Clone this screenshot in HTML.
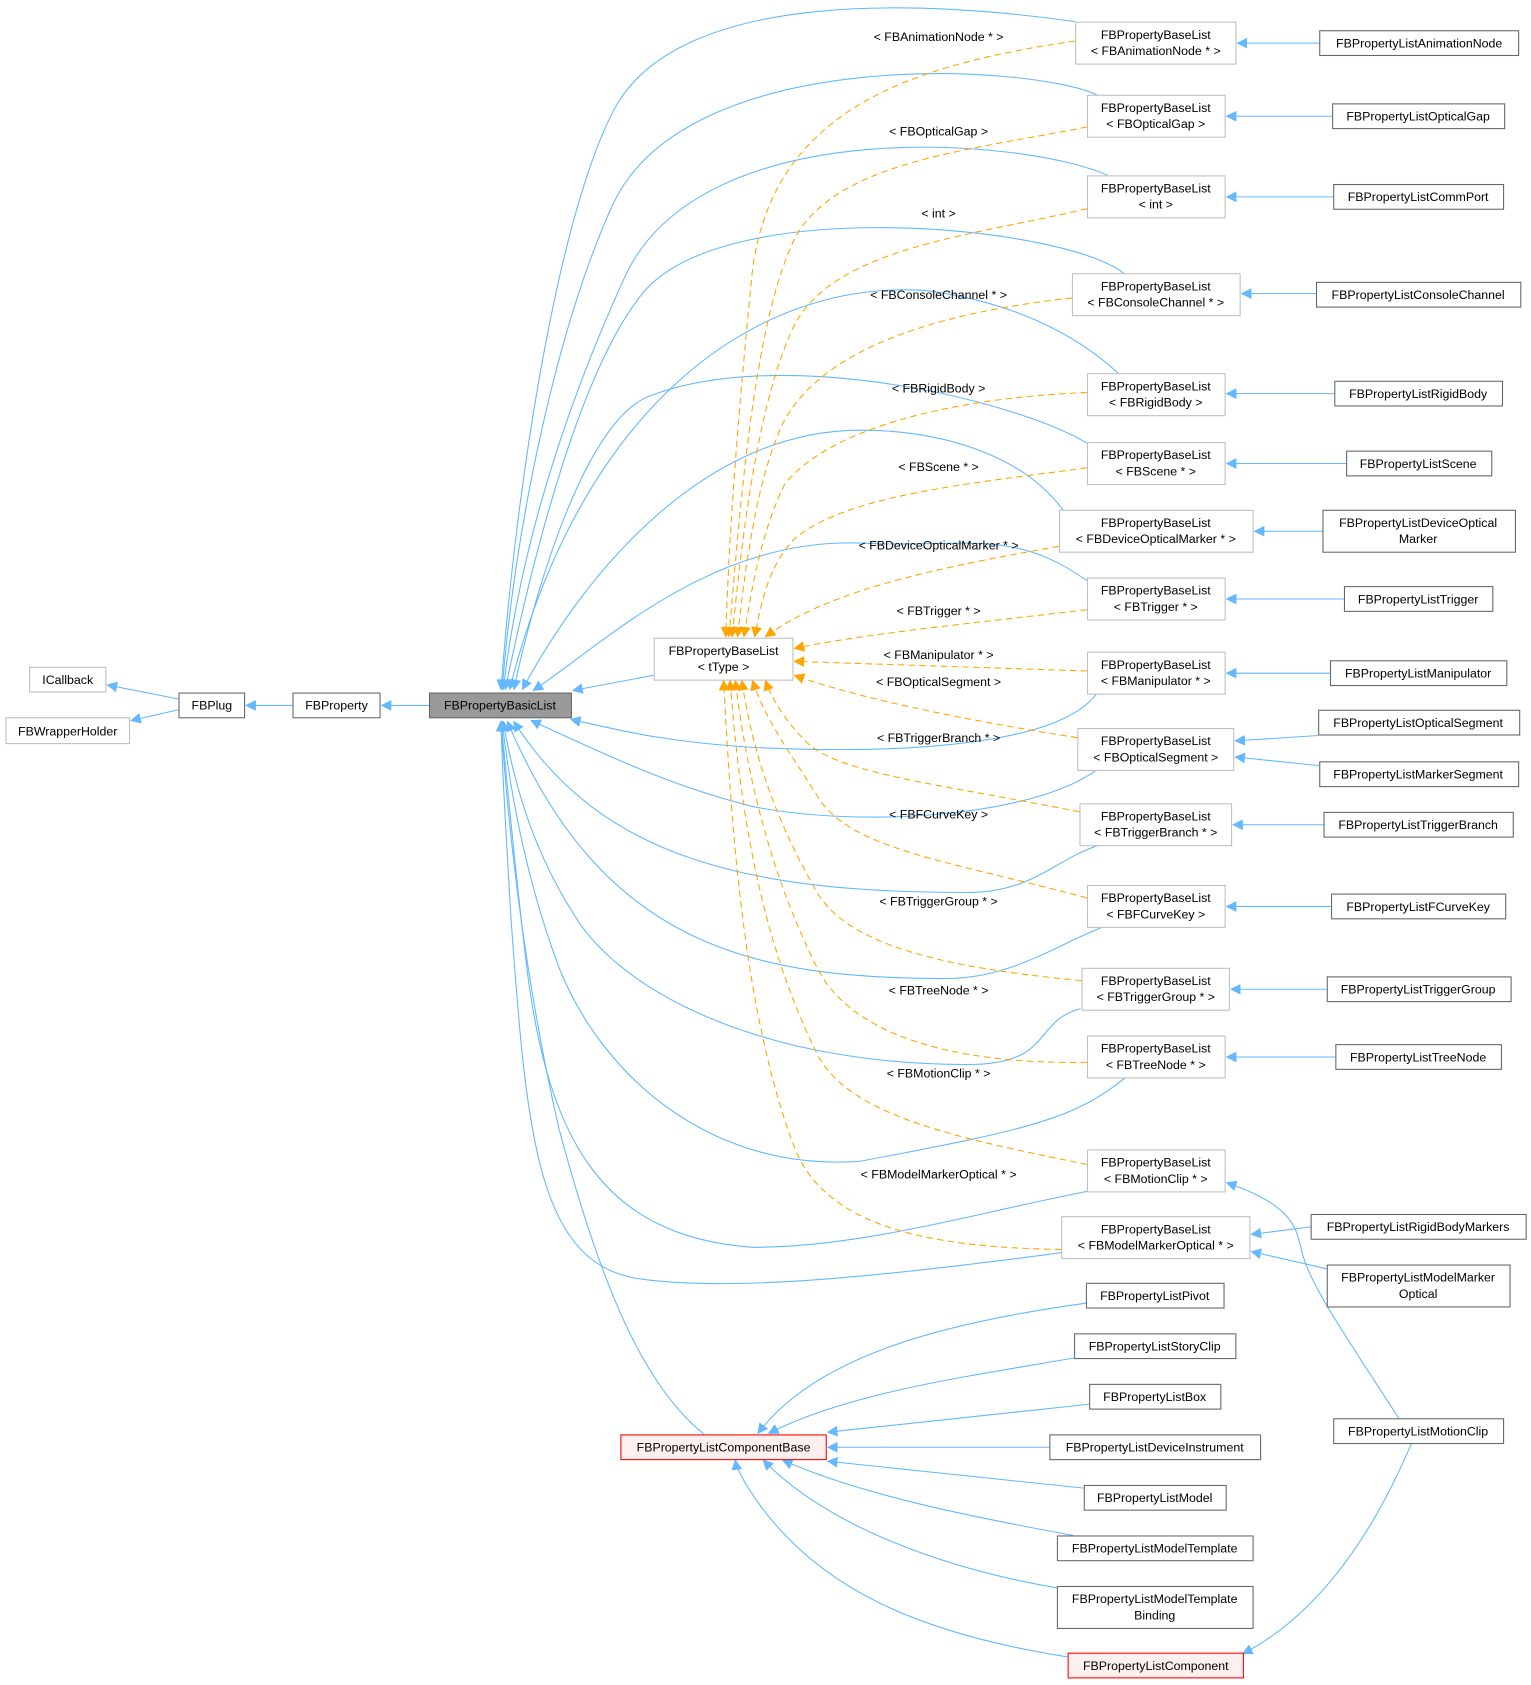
<!DOCTYPE html>
<html><head><style>
html,body{margin:0;padding:0;background:#fff;}
svg{display:block;}
text{font-family:"Liberation Sans",sans-serif;font-size:11.5px;fill:#000;}
</style></head><body>
<svg width="1531" height="1685" viewBox="0 0 1424 1567" xmlns="http://www.w3.org/2000/svg">
<defs>
<marker id="b" markerWidth="10" markerHeight="10" refX="9" refY="5" orient="auto" markerUnits="userSpaceOnUse"><path d="M0,0 L10,5 L0,10 z" fill="#63b8ff"/></marker>
<marker id="o" markerWidth="10" markerHeight="10" refX="9" refY="5" orient="auto" markerUnits="userSpaceOnUse"><path d="M0,0 L10,5 L0,10 z" fill="#ffa500"/></marker>
</defs>
<g fill="none" stroke="#63b8ff" stroke-width="1" marker-end="url(#b)">
<path d="M166,650 L100,637"/>
<path d="M166,660 L122,670"/>
<path d="M272,656 L229,656"/>
<path d="M399,656 L355,656"/>
<path d="M608,628 L533,642"/>
<path d="M1000,20 C860,0 640,-10 575,95 C520,190 480,450 466,641"/>
<path d="M1020,88 C960,60 640,40 570,190 C520,300 480,480 467,641"/>
<path d="M1030,163 C960,130 650,100 580,260 C530,370 485,500 468,641"/>
<path d="M1045,254 C990,210 680,180 600,270 C540,340 495,520 470,641"/>
<path d="M1040,347 C1000,310 940,280 860,270 C700,260 540,380 474,641"/>
<path d="M1011,412 C940,370 720,320 600,370 C540,400 495,560 478,641"/>
<path d="M990,476 C950,420 870,400 800,400 C650,400 540,540 486,641"/>
<path d="M1011,540 C940,490 900,510 800,505 C660,500 560,600 496,642"/>
<path d="M1020,645 C980,700 800,700 700,695 C620,690 580,680 531,669"/>
<path d="M1020,716 C960,760 800,770 700,750 C620,730 560,700 494,670"/>
<path d="M1022,786 C980,800 960,830 900,830 C700,830 560,800 478,671"/>
<path d="M1026,862 C980,880 940,910 880,910 C700,910 560,880 472,671"/>
<path d="M1005,938 C960,950 980,990 900,990 C720,990 590,930 540,860 C500,800 480,740 468,671"/>
<path d="M1047,1002 C1000,1040 960,1050 800,1080 C660,1090 560,1000 520,900 C490,820 475,740 467,671"/>
<path d="M1011,1108 C900,1130 800,1160 700,1160 C560,1150 510,1060 490,900 C478,800 472,730 466,671"/>
<path d="M987,1165 C800,1190 680,1200 600,1190 C500,1180 490,1060 475,850 C470,760 467,720 466,671"/>
<path d="M655,1334 C600,1290 560,1200 520,1050 C490,920 473,780 466,671"/>
<path d="M1227,40 L1151,40"/>
<path d="M1239,108 L1141,108"/>
<path d="M1240,183 L1141,183"/>
<path d="M1224,273 L1155,273"/>
<path d="M1241,366 L1141,366"/>
<path d="M1252,431 L1141,431"/>
<path d="M1230,494 L1167,494"/>
<path d="M1250,557 L1141,557"/>
<path d="M1237,626 L1141,626"/>
<path d="M1226,684 L1149,689"/>
<path d="M1227,712 L1149,704"/>
<path d="M1231,767 L1147,767"/>
<path d="M1238,843 L1141,843"/>
<path d="M1234,920 L1145,920"/>
<path d="M1242,983 L1141,983"/>
<path d="M1219,1141 L1164,1148"/>
<path d="M1234,1180 L1164,1164"/>
<path d="M1301,1319 C1250,1240 1215,1190 1210,1160 C1205,1140 1200,1120 1141,1100"/>
<path d="M1313,1342 C1280,1420 1230,1500 1156,1538"/>
<path d="M1010,1212 C880,1230 760,1260 705,1333"/>
<path d="M999,1263 C900,1280 790,1295 715,1333"/>
<path d="M1013,1306 L770,1332"/>
<path d="M976,1346 L770,1346"/>
<path d="M1008,1384 L770,1359"/>
<path d="M998,1428 C900,1410 800,1390 728,1358"/>
<path d="M990,1478 C880,1460 770,1420 710,1358"/>
<path d="M993,1541 C860,1520 760,1480 700,1390 C690,1375 685,1365 684,1358"/>
</g>
<g fill="none" stroke="#ffa500" stroke-width="1" stroke-dasharray="6,4" marker-end="url(#o)">
<path d="M1000,38 C850,60 720,100 700,250 C685,400 678,500 675,592"/>
<path d="M1011,118 C900,140 780,150 740,220 C700,300 688,480 678,592"/>
<path d="M1011,194 C900,220 780,230 740,300 C705,370 690,500 681,592"/>
<path d="M997,277 C880,290 770,320 730,390 C705,440 694,520 686,592"/>
<path d="M1011,365 C880,370 770,400 730,450 C710,490 700,540 692,592"/>
<path d="M1011,435 C900,450 790,460 740,500 C715,525 708,560 702,592"/>
<path d="M985,508 C860,530 770,550 712,592"/>
<path d="M1011,567 C900,580 800,590 739,603"/>
<path d="M1011,624 L739,615"/>
<path d="M1002,686 C900,670 800,650 739,628"/>
<path d="M1004,755 C880,730 780,720 750,690 C730,670 718,650 712,633"/>
<path d="M1011,835 C880,800 790,790 760,740 C735,700 712,670 700,633"/>
<path d="M1006,912 C880,900 790,880 760,830 C720,760 700,700 690,633"/>
<path d="M1011,988 C880,990 790,960 760,900 C710,800 692,700 684,633"/>
<path d="M1011,1083 C900,1060 790,1040 760,980 C700,860 686,720 679,633"/>
<path d="M987,1162 C860,1160 770,1140 740,1070 C690,940 680,760 673,633"/>
</g>
<g font-size="11.5" text-anchor="middle">
<text x="873" y="38">&lt; FBAnimationNode * &gt;</text>
<text x="873" y="126">&lt; FBOpticalGap &gt;</text>
<text x="873" y="202">&lt; int &gt;</text>
<text x="873" y="278">&lt; FBConsoleChannel * &gt;</text>
<text x="873" y="365">&lt; FBRigidBody &gt;</text>
<text x="873" y="438">&lt; FBScene * &gt;</text>
<text x="873" y="511">&lt; FBDeviceOpticalMarker * &gt;</text>
<text x="873" y="572">&lt; FBTrigger * &gt;</text>
<text x="873" y="613">&lt; FBManipulator * &gt;</text>
<text x="873" y="638">&lt; FBOpticalSegment &gt;</text>
<text x="873" y="690">&lt; FBTriggerBranch * &gt;</text>
<text x="873" y="761">&lt; FBFCurveKey &gt;</text>
<text x="873" y="842">&lt; FBTriggerGroup * &gt;</text>
<text x="873" y="925">&lt; FBTreeNode * &gt;</text>
<text x="873" y="1002">&lt; FBMotionClip * &gt;</text>
<text x="873" y="1096">&lt; FBModelMarkerOptical * &gt;</text>
</g>
<g stroke-width="1">
<g fill="#fff" stroke="#bfbfbf">
<rect x="27.5" y="620.5" width="71" height="23"/>
<rect x="5.5" y="667.5" width="115" height="24"/>
<rect x="608.5" y="593.5" width="129" height="39"/>
<rect x="1000.5" y="20.5" width="149" height="39"/>
<rect x="1011.5" y="88.5" width="128" height="39"/>
<rect x="1011.5" y="163.5" width="128" height="39"/>
<rect x="997.5" y="254.5" width="156" height="39"/>
<rect x="1011.5" y="347.5" width="128" height="39"/>
<rect x="1011.5" y="411.5" width="128" height="39"/>
<rect x="985.5" y="474.5" width="180" height="39"/>
<rect x="1011.5" y="537.5" width="128" height="39"/>
<rect x="1011.5" y="606.5" width="128" height="39"/>
<rect x="1002.5" y="677.5" width="145" height="39"/>
<rect x="1004.5" y="747.5" width="141" height="39"/>
<rect x="1011.5" y="823.5" width="128" height="39"/>
<rect x="1006.5" y="900.5" width="137" height="39"/>
<rect x="1011.5" y="963.5" width="128" height="39"/>
<rect x="1011.5" y="1069.5" width="128" height="39"/>
<rect x="987.5" y="1131.5" width="175" height="39"/>
</g>
<g fill="#fff" stroke="#666">
<rect x="166.5" y="644.5" width="61" height="23"/>
<rect x="272.5" y="644.5" width="81" height="23"/>
<rect x="1227.5" y="28.5" width="185" height="23"/>
<rect x="1239.5" y="96.5" width="160" height="23"/>
<rect x="1240.5" y="171.5" width="158" height="23"/>
<rect x="1224.5" y="262.5" width="190" height="23"/>
<rect x="1241.5" y="354.5" width="156" height="23"/>
<rect x="1252.5" y="419.5" width="135" height="23"/>
<rect x="1230.5" y="474.5" width="179" height="39"/>
<rect x="1250.5" y="545.5" width="138" height="23"/>
<rect x="1237.5" y="614.5" width="164" height="23"/>
<rect x="1226.5" y="660.5" width="187" height="23"/>
<rect x="1227.5" y="708.5" width="185" height="23"/>
<rect x="1231.5" y="755.5" width="176" height="23"/>
<rect x="1238.5" y="831.5" width="162" height="23"/>
<rect x="1234.5" y="908.5" width="171" height="23"/>
<rect x="1242.5" y="971.5" width="154" height="23"/>
<rect x="1219.5" y="1129.5" width="200" height="23"/>
<rect x="1234.5" y="1176.5" width="170" height="39"/>
<rect x="1240.5" y="1319.5" width="158" height="23"/>
<rect x="1010.5" y="1193.5" width="128" height="23"/>
<rect x="999.5" y="1240.5" width="150" height="23"/>
<rect x="1013.5" y="1287.5" width="122" height="23"/>
<rect x="976.5" y="1334.5" width="196" height="23"/>
<rect x="1008.5" y="1381.5" width="132" height="23"/>
<rect x="983.5" y="1428.5" width="182" height="23"/>
<rect x="983.5" y="1475.5" width="182" height="39"/>
</g>
<rect x="399.5" y="644.5" width="132" height="23" fill="#999" stroke="#666"/>
<rect x="577.5" y="1334.5" width="191" height="23" fill="#fff0f0" stroke="#f00"/>
<rect x="993.5" y="1537.5" width="163" height="23" fill="#fff0f0" stroke="#f00"/>
</g>
<g text-anchor="middle">
<text x="63" y="636">ICallback</text>
<text x="63" y="684">FBWrapperHolder</text>
<text x="197" y="660">FBPlug</text>
<text x="313" y="660">FBProperty</text>
<text x="465" y="660">FBPropertyBasicList</text>
<text x="673" y="609">FBPropertyBaseList</text><text x="673" y="624">&lt; tType &gt;</text>
<text x="1075" y="36">FBPropertyBaseList</text><text x="1075" y="51">&lt; FBAnimationNode * &gt;</text>
<text x="1075" y="104">FBPropertyBaseList</text><text x="1075" y="119">&lt; FBOpticalGap &gt;</text>
<text x="1075" y="179">FBPropertyBaseList</text><text x="1075" y="194">&lt; int &gt;</text>
<text x="1075" y="270">FBPropertyBaseList</text><text x="1075" y="285">&lt; FBConsoleChannel * &gt;</text>
<text x="1075" y="363">FBPropertyBaseList</text><text x="1075" y="378">&lt; FBRigidBody &gt;</text>
<text x="1075" y="427">FBPropertyBaseList</text><text x="1075" y="442">&lt; FBScene * &gt;</text>
<text x="1075" y="490">FBPropertyBaseList</text><text x="1075" y="505">&lt; FBDeviceOpticalMarker * &gt;</text>
<text x="1075" y="553">FBPropertyBaseList</text><text x="1075" y="568">&lt; FBTrigger * &gt;</text>
<text x="1075" y="622">FBPropertyBaseList</text><text x="1075" y="637">&lt; FBManipulator * &gt;</text>
<text x="1075" y="693">FBPropertyBaseList</text><text x="1075" y="708">&lt; FBOpticalSegment &gt;</text>
<text x="1075" y="763">FBPropertyBaseList</text><text x="1075" y="778">&lt; FBTriggerBranch * &gt;</text>
<text x="1075" y="839">FBPropertyBaseList</text><text x="1075" y="854">&lt; FBFCurveKey &gt;</text>
<text x="1075" y="916">FBPropertyBaseList</text><text x="1075" y="931">&lt; FBTriggerGroup * &gt;</text>
<text x="1075" y="979">FBPropertyBaseList</text><text x="1075" y="994">&lt; FBTreeNode * &gt;</text>
<text x="1075" y="1085">FBPropertyBaseList</text><text x="1075" y="1100">&lt; FBMotionClip * &gt;</text>
<text x="1075" y="1147">FBPropertyBaseList</text><text x="1075" y="1162">&lt; FBModelMarkerOptical * &gt;</text>
<text x="1320" y="44">FBPropertyListAnimationNode</text>
<text x="1319" y="112">FBPropertyListOpticalGap</text>
<text x="1319" y="187">FBPropertyListCommPort</text>
<text x="1319" y="278">FBPropertyListConsoleChannel</text>
<text x="1319" y="370">FBPropertyListRigidBody</text>
<text x="1319" y="435">FBPropertyListScene</text>
<text x="1319" y="490">FBPropertyListDeviceOptical</text><text x="1319" y="505">Marker</text>
<text x="1319" y="561">FBPropertyListTrigger</text>
<text x="1319" y="630">FBPropertyListManipulator</text>
<text x="1319" y="676">FBPropertyListOpticalSegment</text>
<text x="1319" y="724">FBPropertyListMarkerSegment</text>
<text x="1319" y="771">FBPropertyListTriggerBranch</text>
<text x="1319" y="847">FBPropertyListFCurveKey</text>
<text x="1319" y="924">FBPropertyListTriggerGroup</text>
<text x="1319" y="987">FBPropertyListTreeNode</text>
<text x="1319" y="1145">FBPropertyListRigidBodyMarkers</text>
<text x="1319" y="1192">FBPropertyListModelMarker</text><text x="1319" y="1207">Optical</text>
<text x="1319" y="1335">FBPropertyListMotionClip</text>
<text x="1074" y="1209">FBPropertyListPivot</text>
<text x="1074" y="1256">FBPropertyListStoryClip</text>
<text x="1074" y="1303">FBPropertyListBox</text>
<text x="1074" y="1350">FBPropertyListDeviceInstrument</text>
<text x="1074" y="1397">FBPropertyListModel</text>
<text x="1074" y="1444">FBPropertyListModelTemplate</text>
<text x="1074" y="1491">FBPropertyListModelTemplate</text><text x="1074" y="1506">Binding</text>
<text x="673" y="1350">FBPropertyListComponentBase</text>
<text x="1075" y="1553">FBPropertyListComponent</text>
</g>
</svg>
</body></html>
